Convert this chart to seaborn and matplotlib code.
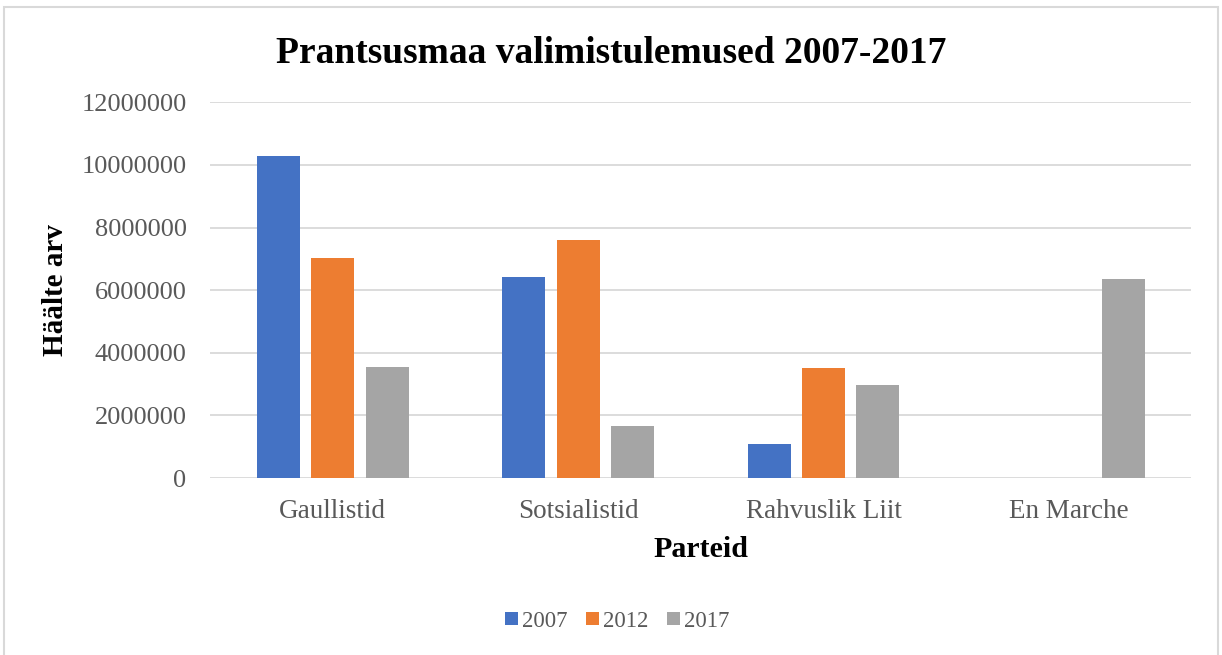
import matplotlib
matplotlib.use("Agg")
import matplotlib.pyplot as plt
import seaborn as sns
import pandas as pd
from matplotlib.patches import Rectangle

parties = ["Gaullistid", "Sotsialistid", "Rahvuslik Liit", "En Marche"]
years = ["2007", "2012", "2017"]
votes_2007 = [10290000, 6420000, 1100000, 0]
votes_2012 = [7020000, 7610000, 3520000, 0]
votes_2017 = [3560000, 1660000, 2970000, 6370000]
yticks = [0, 2000000, 4000000, 6000000, 8000000, 10000000, 12000000]
colors = ["#4472C4", "#ED7D31", "#A5A5A5"]

rows = []
for y, vals in zip(years, [votes_2007, votes_2012, votes_2017]):
    for p, v in zip(parties, vals):
        rows.append({"Partei": p, "Aasta": y, "Hääled": v})
df = pd.DataFrame(rows)

sns.set_theme(style="white")
plt.rcParams["font.family"] = ["Liberation Serif", "DejaVu Serif"]

fig = plt.figure(figsize=(12.22, 6.55), dpi=100)
ax = fig.add_axes([0.172, 0.270, 0.803, 0.574])

sns.barplot(data=df, x="Partei", y="Hääled", hue="Aasta", order=parties,
            hue_order=years, palette=colors, width=0.666, gap=0.21,
            linewidth=0, saturation=1, errorbar=None, ax=ax)

ax.set_ylim(0, 12000000)
ax.set_yticks(yticks)
ax.set_yticklabels([str(t) for t in yticks], fontsize=19, color="#595959")
ax.tick_params(axis="x", labelsize=19.5, labelcolor="#595959", length=0, pad=15)
ax.tick_params(axis="y", length=0, pad=17)
ax.yaxis.grid(True, color="#D9D9D9", linewidth=1.3)
ax.set_axisbelow(True)
for s in ax.spines.values():
    s.set_visible(False)

ax.set_xlabel("Parteid", fontsize=21.5, fontweight="bold", color="black")
ax.xaxis.label.set_va("center")
ax.xaxis.set_label_coords(0.5, -0.191)
ax.set_ylabel("Häälte arv", fontsize=21, fontweight="bold", color="black", labelpad=9)

fig.suptitle("Prantsusmaa valimistulemused 2007-2017", fontsize=27,
             fontweight="bold", x=0.5, y=0.945, color="black")

leg = ax.legend(loc="center", bbox_to_anchor=(0.415, -0.38),
                ncol=3, frameon=False, fontsize=16.5, handlelength=0.55,
                handleheight=0.55, handletextpad=0.2, columnspacing=0.8)
for t in leg.get_texts():
    t.set_color("#595959")

fig.patches.append(Rectangle((0.003, -0.01), 0.994, 1.0, transform=fig.transFigure,
                             fill=False, edgecolor="#D9D9D9", linewidth=1.5))

fig.savefig("out.png", dpi=100)
